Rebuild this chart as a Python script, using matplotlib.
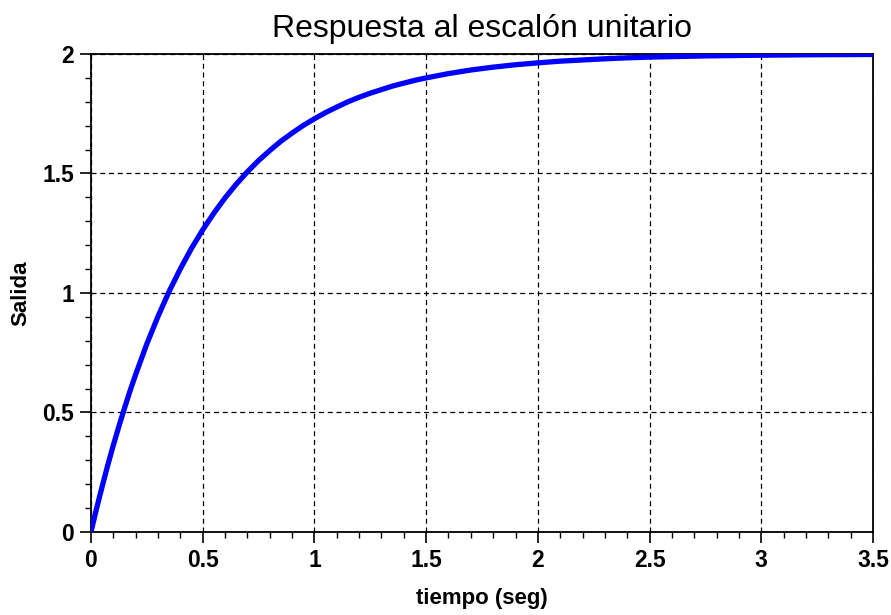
import matplotlib
matplotlib.use("Agg")
import matplotlib.pyplot as plt
from matplotlib.ticker import MultipleLocator

t = [0.0, 0.025, 0.05, 0.075, 0.1, 0.125, 0.15, 0.175, 0.2, 0.25, 0.3, 0.35, 0.4, 0.45, 0.5,
     0.55, 0.6, 0.65, 0.7, 0.75, 0.8, 0.85, 0.9, 0.95, 1.0, 1.05, 1.1, 1.15, 1.2,
     1.25, 1.3, 1.35, 1.4, 1.45, 1.5, 1.6, 1.7, 1.8, 1.9, 2.0, 2.1, 2.2, 2.3, 2.4,
     2.5, 2.75, 3.0, 3.25, 3.5]
y = [0.0, 0.098, 0.190, 0.279, 0.363, 0.442, 0.518, 0.591, 0.659, 0.787, 0.902, 1.007, 1.101, 1.187, 1.264,
     1.334, 1.398, 1.455, 1.507, 1.554, 1.596, 1.635, 1.669, 1.701, 1.729, 1.755, 1.778, 1.800, 1.819,
     1.836, 1.851, 1.866, 1.878, 1.890, 1.900, 1.918, 1.933, 1.945, 1.955, 1.963, 1.970, 1.975, 1.980, 1.984,
     1.987, 1.992, 1.995, 1.997, 1.998]
xticks = [0, 0.5, 1, 1.5, 2, 2.5, 3, 3.5]
xticklabels = ["0", "0.5", "1", "1.5", "2", "2.5", "3", "3.5"]
yticks = [0, 0.5, 1, 1.5, 2]
yticklabels = ["0", "0.5", "1", "1.5", "2"]

plt.rcParams['font.family'] = ['Liberation Sans', 'DejaVu Sans']
fig = plt.figure(figsize=(8.91, 6.15), dpi=100)
ax = fig.add_axes([0.1021, 0.135, 0.8777, 0.7772])
ax.plot(t, y, color=(0, 0, 1), lw=3.8, solid_capstyle='butt', solid_joinstyle='round', zorder=3)
ax.set_xlim(0, 3.5)
ax.set_ylim(0, 2)
ax.set_xticks(xticks)
ax.set_xticklabels(xticklabels, fontweight='bold')
ax.set_yticks(yticks)
ax.set_yticklabels(yticklabels, fontweight='bold')
ax.xaxis.set_minor_locator(MultipleLocator(0.1))
ax.yaxis.set_minor_locator(MultipleLocator(0.1))
ax.tick_params(which='major', direction='out', length=8, width=1.2, labelsize=16.5, pad=4)
ax.tick_params(which='minor', direction='out', length=4, width=1.0)
ax.tick_params(top=False, right=False)
ax.grid(True, which='major', color='black', linestyle=(0, (4, 3)), linewidth=0.9)
for s in ax.spines.values():
    s.set_linewidth(1.3)
ax.set_title("Respuesta al escalón unitario", fontsize=23, pad=12)
ax.set_xlabel("tiempo (seg)", fontsize=16, fontweight='bold', labelpad=12)
ax.set_ylabel("Salida", fontsize=16, fontweight='bold', labelpad=8)
fig.savefig("out.png", dpi=100)
